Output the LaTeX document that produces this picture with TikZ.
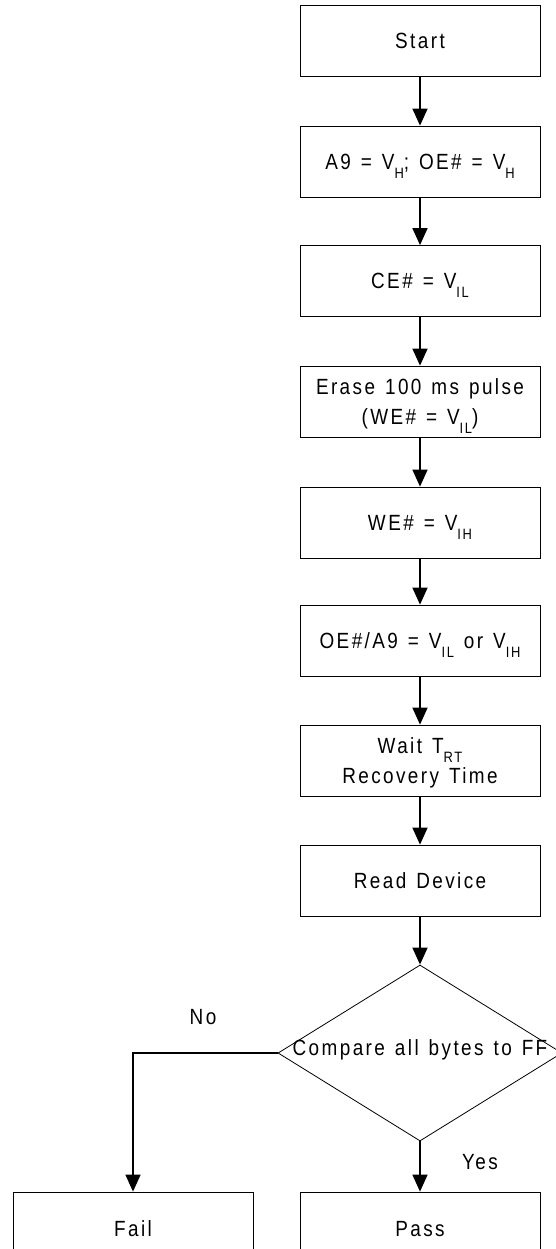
\documentclass[tikz,border=0pt]{standalone}
\usepackage{fontspec}
\setmainfont{Liberation Sans}[FakeStretch=0.86,LetterSpace=11,WordSpace=1.3]
\usetikzlibrary{shapes.geometric,arrows.meta}
\newcommand{\lowsub}[1]{\raisebox{-9pt}{\fontsize{15}{15}\selectfont #1}}
\begin{document}
\begin{tikzpicture}[x=1pt,y=-1pt,
  every node/.style={font=\fontsize{22}{30}\selectfont},
  stepbox/.style={draw,line width=0.8pt,minimum width=240pt,minimum height=71pt,inner sep=0pt,text height=15.7pt,text depth=0pt},
  twobox/.style={draw,line width=0.8pt,minimum width=240pt,minimum height=71pt,inner sep=0pt,align=center,text depth=0pt},
  conn/.style={line width=1.6pt,-{Triangle[length=17pt,width=15pt]}}]
\useasboundingbox (0,0) rectangle (555,1249);
\node[stepbox] (start) at (420,41) {Start};
\node[stepbox] (b2) at (420,161.5) {A9 = V\lowsub{H}; OE\# = V\lowsub{H}};
\node[stepbox] (b3) at (420,281) {CE\# = V\lowsub{IL}};
\node[twobox] (b4) at (420,401.5) {Erase 100 ms pulse\\(WE\# = V\lowsub{IL})};
\node[stepbox] (b5) at (420,522.5) {WE\# = V\lowsub{IH}};
\node[stepbox] (b6) at (420,640.5) {OE\#/A9 = V\lowsub{IL} or V\lowsub{IH}};
\node[twobox] (b7) at (420,760.5) {Wait T\lowsub{RT}\\Recovery Time};
\node[stepbox] (b8) at (420,880.5) {Read Device};
\node[draw,diamond,line width=0.8pt,minimum width=284pt,minimum height=176pt,inner sep=0pt] (dec) at (420,1053) {};
\node (cmp) at (420,1050) {Compare all bytes to FF};
\node[stepbox,minimum height=74pt] (fail) at (133,1229) {Fail};
\node[stepbox,minimum height=74pt] (pass) at (420,1229) {Pass};
\node (no) at (203,1017) {No};
\node (yes) at (480,1162) {Yes};
\draw[conn] (start) -- (b2);
\draw[conn] (b2) -- (b3);
\draw[conn] (b3) -- (b4);
\draw[conn] (b4) -- (b5);
\draw[conn] (b5) -- (b6);
\draw[conn] (b6) -- (b7);
\draw[conn] (b7) -- (b8);
\draw[conn] (b8) -- (dec.north);
\draw[conn] (dec.west) -| (fail.north);
\draw[conn] (dec.south) -- (pass.north);
\end{tikzpicture}
\end{document}
